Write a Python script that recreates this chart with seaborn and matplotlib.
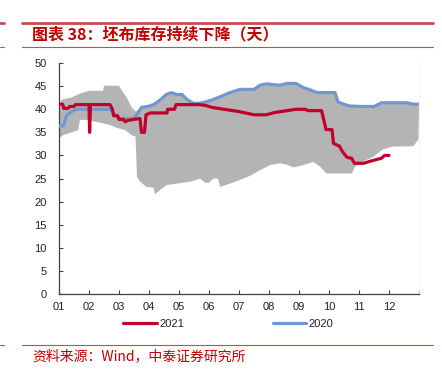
import numpy as np
import pandas as pd
import seaborn as sns
import matplotlib.pyplot as plt
from matplotlib.lines import Line2D

# month positions (0 = start of Jan) and values
m2021 = [0.0, 0.12, 0.16, 0.3, 0.35, 0.5, 0.55, 1.0, 1.02, 1.05, 1.7, 1.78, 1.82, 1.95, 2.0, 2.15,
         2.2, 2.3, 2.5, 2.7, 2.75, 2.85, 2.9, 3.05, 3.6, 3.62, 3.85, 3.9, 4.7, 4.9, 5.1, 5.5,
         6.0, 6.5, 6.9, 7.2, 7.5, 7.9, 8.2, 8.3, 8.75, 8.8, 8.9, 9.1, 9.15, 9.35, 9.45, 9.6,
         9.75, 9.85, 10.15, 10.4, 10.75, 10.85, 11.0]
v2021 = [41.1, 41.1, 40.2, 40.2, 40.6, 40.6, 41.0, 41.0, 35.0, 41.0, 41.0, 40.0, 38.6, 38.6, 37.8, 37.8,
         37.3, 37.6, 37.8, 38.0, 35.0, 35.0, 38.8, 39.2, 39.2, 40.0, 40.0, 41.0, 41.0, 40.8, 40.4, 40.0,
         39.5, 38.8, 38.8, 39.3, 39.6, 40.0, 40.0, 39.7, 39.7, 38.4, 35.6, 35.6, 32.6, 32.0, 30.8, 29.6,
         29.4, 28.3, 28.3, 28.8, 29.4, 30.0, 30.0]

m2020 = [0.0, 0.15, 0.25, 0.42, 0.58, 1.7, 1.85, 2.02, 2.48, 2.62, 2.75, 2.95, 3.15, 3.37, 3.58, 3.75,
         3.92, 4.1, 4.27, 4.48, 4.7, 4.9, 5.14, 5.37, 5.7, 6.03, 6.5, 6.7, 6.92, 7.35, 7.6, 7.9,
         8.14, 8.37, 8.6, 9.2, 9.3, 9.48, 9.7, 10.1, 10.5, 10.75, 11.6, 11.8, 12.0]
v2020 = [36.4, 36.4, 38.7, 39.5, 40.0, 40.0, 39.0, 38.0, 38.0, 39.0, 40.4, 40.6, 41.0, 42.0, 43.2, 43.6,
         43.2, 43.2, 42.1, 41.3, 41.3, 41.6, 42.1, 42.7, 43.6, 44.3, 44.3, 45.2, 45.5, 45.2, 45.6, 45.6,
         44.7, 44.2, 43.6, 43.6, 41.6, 41.1, 40.7, 40.6, 40.6, 41.4, 41.4, 41.1, 41.1]

# range band of previous years
m_hi = [0.0, 0.1, 0.4, 0.7, 1.0, 1.47, 1.5, 2.0, 2.05, 2.25, 2.42, 2.55, 2.7, 2.95, 3.15, 3.37,
        3.58, 3.75, 3.92, 4.1, 4.27, 4.48, 4.7, 4.9, 5.14, 5.37, 5.7, 6.03, 6.5, 6.7, 6.92, 7.35,
        7.6, 7.9, 8.14, 8.37, 8.6, 9.2, 9.3, 9.48, 9.7, 10.1, 10.5, 10.75, 11.6, 11.8, 12.0]
v_hi = [41.0, 42.1, 42.5, 43.4, 44.0, 44.0, 45.1, 45.1, 44.5, 42.6, 40.5, 39.5, 40.2, 40.6, 41.0, 42.0,
        43.2, 43.5, 43.2, 43.2, 42.0, 41.2, 41.2, 41.5, 42.0, 42.6, 43.5, 44.2, 44.2, 45.1, 45.4, 45.1,
        45.5, 45.5, 44.6, 44.1, 43.5, 43.5, 41.5, 41.0, 40.6, 40.5, 40.5, 41.3, 41.3, 41.0, 41.0]
m_lo = [0.0, 0.14, 0.37, 0.64, 0.7, 0.92, 1.37, 1.7, 1.92, 2.2, 2.42, 2.55, 2.6, 2.7, 2.92, 3.15,
        3.2, 3.37, 3.59, 4.03, 4.37, 4.7, 4.87, 5.0, 5.14, 5.3, 5.37, 5.7, 6.03, 6.37, 6.7, 7.03,
        7.37, 7.6, 7.81, 8.14, 8.48, 8.7, 8.92, 9.76, 9.87, 10.1, 10.48, 10.76, 11.1, 11.81, 11.98, 12.0]
v_lo = [33.7, 34.4, 34.9, 35.5, 37.7, 37.7, 37.1, 36.6, 36.0, 35.5, 34.4, 34.1, 25.4, 24.3, 23.2, 23.0,
        21.6, 22.5, 23.6, 24.0, 24.3, 25.0, 24.1, 24.1, 25.0, 25.0, 23.2, 23.9, 24.7, 25.6, 26.8, 27.9,
        28.3, 28.0, 27.4, 27.9, 28.6, 27.6, 26.1, 26.1, 27.6, 28.6, 29.7, 31.2, 31.9, 32.0, 33.5, 41.0]

month_labels = ['01', '02', '03', '04', '05', '06', '07', '08', '09', '10', '11', '12']

red = '#C0002A'
blue = '#7395D2'

sns.set_theme(style='white')
plt.rcParams['font.family'] = ['Liberation Sans', 'DejaVu Sans']

fig = plt.figure(figsize=(4.42, 3.71), dpi=100)
ax = fig.add_axes([0.1335, 0.2075, 0.8145, 0.6225])

ax.fill(np.concatenate([m_hi, m_lo[::-1]]), np.concatenate([v_hi, v_lo[::-1]]),
        color='#B4B4B4', lw=0, zorder=1)

df21 = pd.DataFrame({'m': m2021, 'v': v2021})
df20 = pd.DataFrame({'m': m2020, 'v': v2020})
sns.lineplot(data=df20, x='m', y='v', ax=ax, color=blue, lw=2.3, sort=False, label='2020', zorder=3)
sns.lineplot(data=df21, x='m', y='v', ax=ax, color=red, lw=2.3, sort=False, label='2021', zorder=4)

ax.set_xlim(0, 12)
ax.set_ylim(0, 50)
ax.set_xticks(range(13))
ax.set_xticklabels(month_labels + [''])
ax.set_yticks(range(0, 51, 5))
ax.set_xlabel('')
ax.set_ylabel('')
ax.tick_params(axis='both', direction='in', length=3, width=0.8, color='#404040',
               labelsize=8, labelcolor='#222222')
ax.tick_params(axis='y', pad=9)
ax.tick_params(axis='x', pad=6)
ax.xaxis.set_ticks_position('bottom')
ax.yaxis.set_ticks_position('left')
for s in ['left', 'bottom']:
    ax.spines[s].set_color('#404040')
    ax.spines[s].set_linewidth(0.9)
ax.spines['top'].set_visible(False)
ax.spines['right'].set_color('#F0F0F0')
ax.spines['right'].set_linewidth(0.6)

h, l = ax.get_legend_handles_labels()
ax.legend([h[1], h[0]], [l[1], l[0]], loc='upper center', bbox_to_anchor=(0.47, -0.065),
          ncol=2, frameon=False, fontsize=8, handlelength=3.0, handletextpad=0.2,
          columnspacing=8.0, labelcolor='#222222')

# title and source framing
for y, lw, c in [(1 - 23 / 371, 2.0, '#C0504D'), (1 - 47 / 371, 0.8, '#C0504D'),
                 (1 - 345 / 371, 0.8, '#C0504D')]:
    fig.add_artist(Line2D([22 / 442, 433 / 442], [y, y], color=c, lw=lw))
    fig.add_artist(Line2D([0, 4 / 442], [y, y], color=c, lw=lw))

fig.text(32 / 442, 1 - 34 / 371, '图表 38：坯布库存持续下降（天）', color='#C00000',
         fontsize=11.5, fontweight='bold', va='center', ha='left',
         family=['Noto Sans CJK SC', 'DejaVu Sans'])
fig.text(32 / 442, 1 - 356 / 371, '资料来源：Wind，中泰证券研究所', color='#C00000',
         fontsize=10, va='center', ha='left', family=['Noto Sans CJK SC', 'DejaVu Sans'])

fig.savefig('out.png', dpi=100)
